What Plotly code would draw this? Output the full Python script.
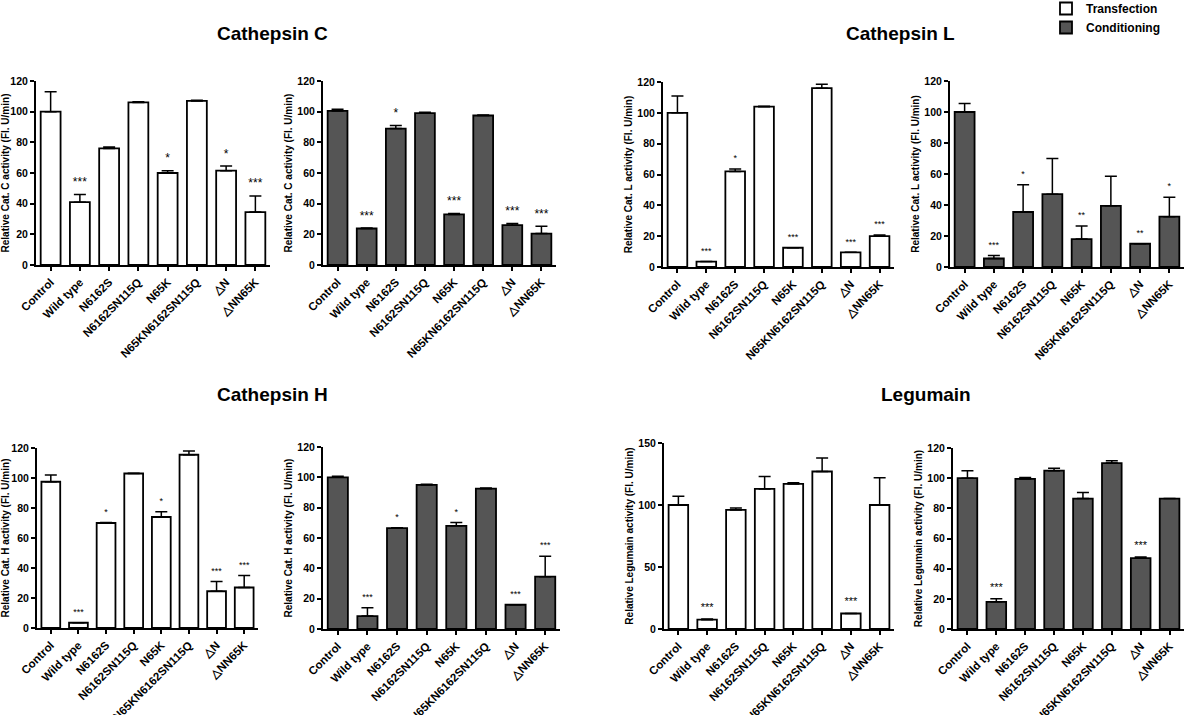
"""
Cathepsin / legumain activity panels - transfection vs conditioning
"""

import plotly.graph_objects as go

W, H = 1192, 715

categories = ["Control", "Wild type", "N6162S", "N6162SN115Q", "N65K",
              "N65KN6162SN115Q", "△N", "△NN65K"]

# Cathepsin C
catc_trans_mean = [100, 41, 76, 106, 60, 107, 61.5, 34.5]
catc_trans_sem = [13, 5, 1, 0.5, 1.5, 0.5, 3, 10.5]
catc_trans_sig = ["", "***", "", "", "*", "", "*", "***"]
catc_cond_mean = [100.5, 23.8, 89, 99, 33, 97.5, 26, 20.5]
catc_cond_sem = [1, 0.3, 2, 0.7, 0.6, 0.3, 1, 4.8]
catc_cond_sig = ["", "***", "*", "", "***", "", "***", "***"]

# Cathepsin L
catl_trans_mean = [100, 3.5, 62, 104, 12.5, 116, 9.5, 20]
catl_trans_sem = [11, 0, 1.5, 0.3, 0, 2.5, 0, 0.8]
catl_trans_sig = ["", "***", "*", "", "***", "", "***", "***"]
catl_cond_mean = [100, 5.5, 35.5, 47, 18, 39.5, 15, 32.5]
catl_cond_sem = [5.5, 2, 17.5, 23, 8.5, 19, 0, 12.5]
catl_cond_sig = ["", "***", "*", "", "**", "", "**", "*"]

# Cathepsin H
cath_trans_mean = [97.5, 3.5, 70, 103, 74, 115.5, 24.5, 27]
cath_trans_sem = [4.5, 0, 0.3, 0.2, 3.5, 2.5, 6.5, 8]
cath_trans_sig = ["", "***", "*", "", "*", "", "***", "***"]
cath_cond_mean = [100, 8.5, 66.5, 95, 68, 92.5, 16, 34.5]
cath_cond_sem = [0.7, 5.5, 0.3, 0.5, 2.3, 0.5, 0, 13.5]
cath_cond_sig = ["", "***", "*", "", "*", "", "***", "***"]

# Legumain
legu_trans_mean = [100, 7.5, 96, 113, 117, 127, 12.5, 100]
legu_trans_sem = [7, 0.5, 1.5, 10, 1, 11, 0, 22]
legu_trans_sig = ["", "***", "", "", "", "", "***", ""]
legu_cond_mean = [100, 18, 99.5, 105, 86.5, 110, 47, 86.5]
legu_cond_sem = [5, 2, 1, 1.5, 4, 1.5, 0.8, 0]
legu_cond_sig = ["", "***", "", "", "", "", "***", ""]

WHITE = "white"
DARK = "#555555"
FONT = "Liberation Sans, Arial, sans-serif"

# (mean, sem, sig, fill, y title, ymax, dtick, x pixels, y pixels(top, bottom), star size)
panels = [
    (catc_trans_mean, catc_trans_sem, catc_trans_sig, WHITE,
     "Relative Cat. C activity (Fl. U/min)", 120, 20, (36, 270), (81, 265), 12),
    (catc_cond_mean, catc_cond_sem, catc_cond_sig, DARK,
     "Relative Cat. C activity (Fl. U/min)", 120, 20, (323, 556), (81, 265), 12),
    (catl_trans_mean, catl_trans_sem, catl_trans_sig, WHITE,
     "Relative Cat. L activity (Fl. U/min)", 120, 20, (663, 894), (82, 267), 9),
    (catl_cond_mean, catl_cond_sem, catl_cond_sig, DARK,
     "Relative Cat. L activity (Fl. U/min)", 120, 20, (950, 1184), (81, 267), 9),
    (cath_trans_mean, cath_trans_sem, cath_trans_sig, WHITE,
     "Relative Cat. H activity (Fl. U/min)", 120, 20, (37, 258), (448, 628), 9),
    (cath_cond_mean, cath_cond_sem, cath_cond_sig, DARK,
     "Relative Cat. H activity (Fl. U/min)", 120, 20, (323, 560), (447, 629), 9),
    (legu_trans_mean, legu_trans_sem, legu_trans_sig, WHITE,
     "Relative Legumain activity (Fl. U/min)", 150, 50, (664, 894), (443, 629), 11),
    (legu_cond_mean, legu_cond_sem, legu_cond_sig, DARK,
     "Relative Legumain activity (Fl. U/min)", 120, 20, (953, 1184), (448, 629), 11),
]

titles = [("Cathepsin C", 272, 33), ("Cathepsin L", 900, 33),
          ("Cathepsin H", 272, 395), ("Legumain", 926, 395)]


def px_x(p):
    return p / W


def px_y(p):
    return 1 - p / H


fig = go.Figure()
legend_done = set()

for i, (mean, sem, sig, fill, ytitle, ymax, dtick, xpx, ypx, star_size) in enumerate(panels):
    n = i + 1
    xa = "x" if n == 1 else f"x{n}"
    ya = "y" if n == 1 else f"y{n}"
    name = "Transfection" if fill == WHITE else "Conditioning"
    show = name not in legend_done
    legend_done.add(name)

    fig.add_trace(go.Bar(
        x=categories, y=mean, xaxis=xa, yaxis=ya,
        name=name, showlegend=show, legendgroup=name,
        width=0.68,
        marker=dict(color=fill, line=dict(color="black", width=1.8)),
        error_y=dict(type="data", symmetric=False, array=sem,
                     arrayminus=[0] * len(sem), color="black",
                     thickness=1.5, width=6),
    ))

    # significance stars above the error bars
    star_y = [m + s + ymax * 0.03 for m, s in zip(mean, sem)]
    fig.add_trace(go.Scatter(
        x=categories, y=star_y, xaxis=xa, yaxis=ya, mode="text",
        text=sig, textposition="top center", showlegend=False,
        textfont=dict(size=star_size, color="black", family=FONT),
        hoverinfo="skip",
    ))

    xkey = "xaxis" if n == 1 else f"xaxis{n}"
    ykey = "yaxis" if n == 1 else f"yaxis{n}"
    fig.update_layout({
        xkey: dict(
            domain=[px_x(xpx[0]), px_x(xpx[1])], anchor=ya,
            automargin=False, type="category", range=[-0.5, 7.5],
            showline=True, linecolor="black", linewidth=2,
            ticks="outside", ticklen=4, tickwidth=1.5, tickcolor="black",
            tickangle=-45, showgrid=False, zeroline=False,
            tickfont=dict(size=11.5, family=FONT, color="black", weight="bold"),
        ),
        ykey: dict(
            domain=[px_y(ypx[1]), px_y(ypx[0])], anchor=xa, automargin=False,
            range=[0, ymax], dtick=dtick,
            showline=True, linecolor="black", linewidth=2,
            ticks="outside", ticklen=4, tickwidth=1.5, tickcolor="black",
            showgrid=False, zeroline=False,
            tickfont=dict(size=10.5, family=FONT, color="black", weight="bold"),
            title=dict(text=ytitle, standoff=3,
                       font=dict(size=10, family=FONT, color="black", weight="bold")),
        ),
    })

for text, px, py in titles:
    fig.add_annotation(
        x=px_x(px), y=px_y(py), xref="paper", yref="paper",
        text=text, showarrow=False, xanchor="center", yanchor="middle",
        font=dict(size=19, family=FONT, color="black", weight="bold"),
    )

fig.update_layout(
    width=W, height=H,
    margin=dict(l=0, r=0, t=0, b=0, autoexpand=False),
    paper_bgcolor="white", plot_bgcolor="white",
    bargap=0.32,
    legend=dict(
        x=px_x(1046), y=px_y(-6), xanchor="left", yanchor="top",
        font=dict(size=12, family=FONT, color="black", weight="bold"),
        bgcolor="rgba(0,0,0,0)", tracegroupgap=0, itemwidth=30,
    ),
)

# drop the browser's default 8px body margin so the figure fills the window
fig.write_html("out.html", config={"displayModeBar": False},
               post_script="document.body.style.margin = '0px';")
